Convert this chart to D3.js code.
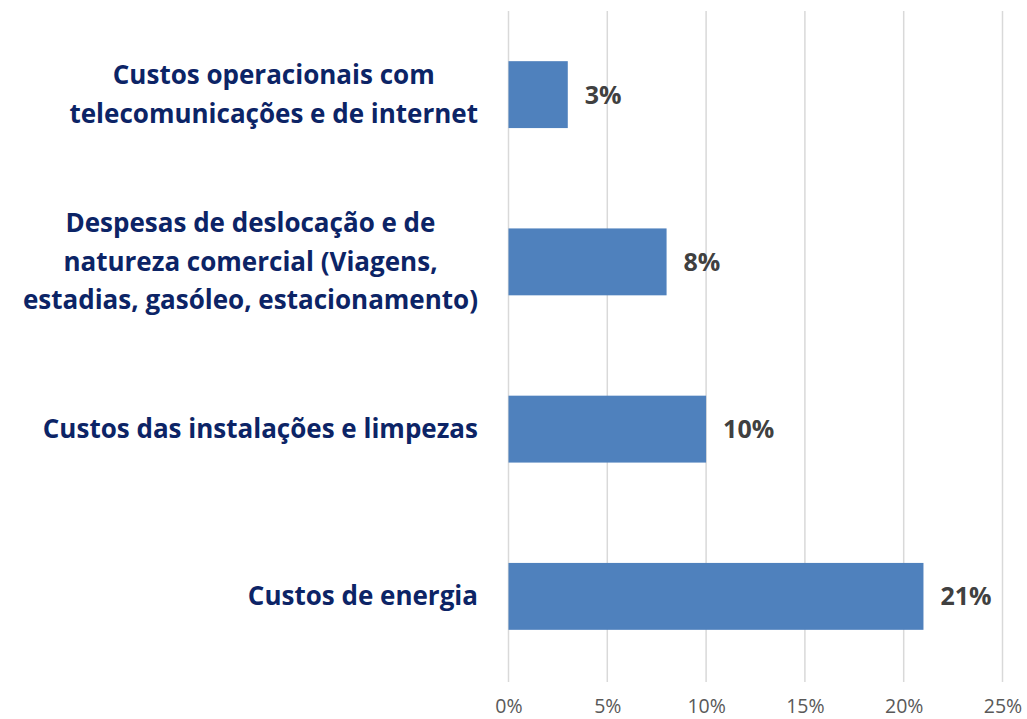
<!DOCTYPE html>
<html><head><meta charset="utf-8">
<script src="https://cdn.jsdelivr.net/npm/d3@7"></script>
<style>body{margin:0;background:#fff}svg{display:block}</style>
</head><body>
<script>
const categories = [
  ["Custos operacionais com", "telecomunicações e de internet"],
  ["Despesas de deslocação e de", "natureza comercial (Viagens,", "estadias, gasóleo, estacionamento)"],
  ["Custos das instalações e limpezas"],
  ["Custos de energia"]
];
const values = [3, 8, 10, 21];
const tickValues = [0, 5, 10, 15, 20, 25];

const W = 1027, H = 719;
const mLeft = 508.5, mRight = 1002.5, mTop = 11, mBottom = 680;
const svg = d3.select("body").append("svg").attr("width", W).attr("height", H);

const x = d3.scaleLinear().domain([0, 25]).range([mLeft, mRight]);
const y = d3.scaleBand().domain(d3.range(categories.length)).range([mTop, mBottom]).paddingInner(0.6).paddingOuter(0.3);

svg.append("g").selectAll("line").data(tickValues).join("line")
  .attr("x1", d => x(d)).attr("x2", d => x(d))
  .attr("y1", mTop).attr("y2", mBottom + 2)
  .attr("stroke", "#d9d9d9").attr("stroke-width", 1.5);

const axis = d3.axisBottom(x).tickValues(tickValues).tickFormat(d => d + "%").tickSize(0).tickPadding(0);
const ag = svg.append("g").attr("transform", `translate(0,${mBottom})`).call(axis);
ag.select(".domain").remove();
ag.selectAll("text").attr("y", 32.5).attr("dy", null)
  .attr("font-family", "'Open Sans', sans-serif").attr("font-size", 19.5).attr("fill", "#595959");

svg.append("g").selectAll("rect").data(values).join("rect")
  .attr("x", x(0)).attr("y", (d, i) => y(i))
  .attr("width", d => x(d) - x(0)).attr("height", y.bandwidth())
  .attr("fill", "#4f81bd");

svg.append("g").selectAll("text").data(values).join("text")
  .attr("x", d => x(d) + 17).attr("y", (d, i) => y(i) + y.bandwidth() / 2 + 9)
  .attr("font-family", "'Open Sans', sans-serif").attr("font-weight", "bold")
  .attr("font-size", 25).attr("fill", "#404040")
  .text(d => d + "%");

const lh = 38.5;
const lg = svg.append("g");
categories.forEach((lines, i) => {
  const cy = y(i) + y.bandwidth() / 2;
  const t = lg.append("text").attr("text-anchor", "middle")
    .attr("font-family", "'Open Sans', sans-serif").attr("font-weight", "bold")
    .attr("font-size", 26).attr("fill", "#0c2466");
  lines.forEach((ln, j) => {
    t.append("tspan").attr("x", 0).attr("y", cy + (j - (lines.length - 1) / 2) * lh + 9).text(ln);
  });
  const bb = t.node().getBBox();
  t.attr("transform", `translate(${478 - bb.width / 2},0)`);
});
</script>
</body></html>
